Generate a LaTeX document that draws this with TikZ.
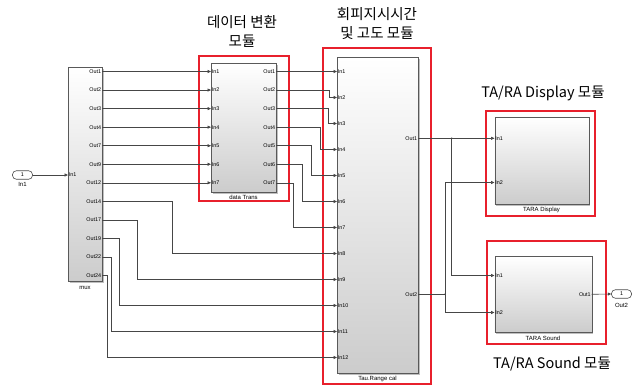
\documentclass[tikz,border=0pt]{standalone}
\usepackage{fontspec}
\setmainfont{Liberation Sans}
\newfontfamily\krfont{Noto Sans CJK KR}
\usetikzlibrary{shadows,arrows.meta,calc}
\newcommand\portfont{\fontsize{5.4}{6}\selectfont}
\newcommand\namefont{\fontsize{6}{7}\selectfont}
\definecolor{boxred}{RGB}{232,32,44}
\definecolor{wire}{RGB}{70,70,70}
\begin{document}
\begin{tikzpicture}[x=1pt,y=-1pt,
  blk/.style={draw=black!65, line width=0.6pt, top color=white, bottom color=black!20,
    drop shadow={shadow xshift=1.2pt,shadow yshift=-1.2pt,fill=black!50,opacity=0.5},
    inner sep=0pt, anchor=north west},
  redbox/.style={draw=boxred, line width=1.3pt},
  wirel/.style={draw=wire, line width=0.6pt},
  arr/.style={wirel, -{Triangle[length=3.4pt,width=3pt]}},
  inl/.style={font=\portfont, anchor=west, inner sep=0.6pt},
  outl/.style={font=\portfont, anchor=east, inner sep=0.6pt},
  bname/.style={font=\namefont, inner sep=0pt},
  title/.style={font=\krfont\fontsize{14.5}{19}\selectfont, align=center, inner sep=0pt},
  dotj/.style={circle, fill=wire, inner sep=0pt, minimum size=1.8pt},
  portov/.style={draw=black!70, line width=0.6pt, rounded corners=3.8pt, minimum width=20pt, minimum height=8.5pt, inner sep=0pt, fill=white, font=\portfont}
]
\useasboundingbox (0,0) rectangle (639,386);

% ---------- titles ----------
\node[title] (t1) at (242,31.5) {데이터 변환\\모듈};
\node[title] (t2) at (377,23.5) {회피지시시간\\및 고도 모듈};
\node[title] (t3) at (543,93) {TA/RA Display 모듈};
\node[title] (t4) at (552,364) {TA/RA Sound 모듈};

% ---------- red boxes ----------
\draw[redbox] (199,56) rectangle (289,201);
\draw[redbox] (323,48) rectangle (431,384);
\draw[redbox] (486,111) rectangle (595,216);
\draw[redbox] (487,241) rectangle (606,344);

% ---------- blocks ----------
\node[blk, minimum width=34pt, minimum height=214pt] (mux) at (68,67) {};
\node[bname] (muxn) at (85,288) {mux};
\node[blk, minimum width=65pt, minimum height=129pt] (dt) at (211,63) {};
\node[bname] (dtn) at (243.5,197) {data Trans};
\node[blk, minimum width=81pt, minimum height=316pt] (tau) at (337,57) {};
\node[bname] (taun) at (377.5,379) {Tau.Range cal};
\node[blk, minimum width=94pt, minimum height=87pt] (disp) at (494.5,117) {};
\node[bname] (dispn) at (541.5,210) {TARA Display};
\node[blk, minimum width=97pt, minimum height=76pt] (snd) at (494.5,256) {};
\node[bname] (sndn) at (543,338) {TARA Sound};

% ---------- in/out ports ----------
\node[portov] (inp) at (22.5,175) {1};
\node[bname] (inpn) at (22.5,184) {In1};
\node[portov] (outp) at (621.5,294) {1};
\node[bname] (outpn) at (621.5,305) {Out2};

% ---------- port coordinates ----------
\coordinate (mux-in) at (68,175);
\node[inl] at (mux-in) {In1};
\foreach \lab [count=\i] in {Out1,Out2,Out3,Out4,Out7,Out9,Out12,Out14,Out17,Out19,Out22,Out24}{
  \coordinate (mo\i) at (102,{71.5+18.55*(\i-1)});
  \node[outl] at (mo\i) {\lab};
}
\foreach \i in {1,...,7}{
  \coordinate (di\i) at (211,{71.5+18.55*(\i-1)});
  \coordinate (do\i) at (276,{71.5+18.55*(\i-1)});
  \node[inl] at (di\i) {In\i};
  \node[outl] at (do\i) {Out\i};
}
\foreach \i in {1,...,12}{
  \coordinate (ti\i) at (337,{71.5+26*(\i-1)});
  \node[inl] at (ti\i) {In\i};
}
\coordinate (to1) at (418,138.3);
\coordinate (to2) at (418,294.3);
\node[outl] at (to1) {Out1};
\node[outl] at (to2) {Out2};
\coordinate (dpi1) at (494.5,138.3);
\coordinate (dpi2) at (494.5,182.5);
\node[inl] at (dpi1) {In1};
\node[inl] at (dpi2) {In2};
\coordinate (si1) at (494.5,275.5);
\coordinate (si2) at (494.5,312.5);
\coordinate (so1) at (591.5,294.3);
\node[inl] at (si1) {In1};
\node[inl] at (si2) {In2};
\node[outl] at (so1) {Out1};

% ---------- connectors ----------
\draw[arr] (inp.east) -- (mux-in);
\foreach \i in {1,...,7}{
  \draw[arr] (mo\i) -- (di\i);
}
\draw[arr] (do1) -- (ti1);
\draw[arr] (do2) -| (329.5,97.5) -- (ti2);
\draw[arr] (do3) -| (328,123.5) -- (ti3);
\draw[arr] (do4) -| (320,149.5) -- (ti4);
\draw[arr] (do5) -| (311,175.5) -- (ti5);
\draw[arr] (do6) -| (302.7,201.5) -- (ti6);
\draw[arr] (do7) -| (293.3,227.5) -- (ti7);
\draw[arr] (mo8) -| (172,253.5) -- (ti8);
\draw[arr] (mo9) -| (137,279.5) -- (ti9);
\draw[arr] (mo10) -| (119,305.5) -- (ti10);
\draw[arr] (mo11) -| (111,331.5) -- (ti11);
\draw[arr] (mo12) -| (107,357.5) -- (ti12);

\coordinate (b1) at (451.7,138.3);
\coordinate (b2) at (445,294.3);
\draw[arr] (to1) -- (dpi1);
\draw[arr] (b1) |- (si1);
\draw[wirel] (to2) -- (b2);
\draw[arr] (b2) |- (dpi2);
\draw[arr] (b2) |- (si2);
\node[dotj] (j1) at (b1) {};
\node[dotj] (j2) at (b2) {};
\draw[arr] (so1) -- (outp.west);
\end{tikzpicture}
\end{document}
